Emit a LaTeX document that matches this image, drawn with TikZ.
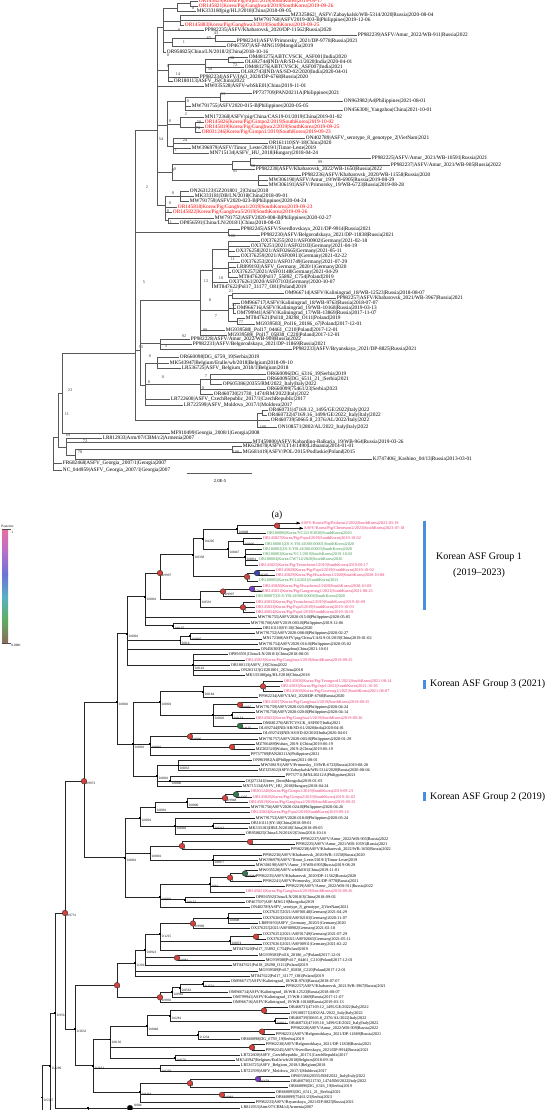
\documentclass[tikz,border=0pt]{standalone}
\usepackage{fontspec}
\setmainfont{Liberation Serif}
\definecolor{cPink}{HTML}{E8336B}
\definecolor{cGreen}{HTML}{3A9448}
\definecolor{cNRed}{HTML}{D9403C}
\definecolor{cNBlue}{HTML}{3C46B8}
\definecolor{cNPurple}{HTML}{7A3CC0}
\definecolor{cNGreen}{HTML}{2F7D4A}
\definecolor{cBar}{HTML}{4A90D9}
\definecolor{cL1}{HTML}{E86FA0}
\definecolor{cL2}{HTML}{B870C8}
\definecolor{cL3}{HTML}{6E72D6}
\definecolor{cL4}{HTML}{5AB0C4}
\definecolor{cL5}{HTML}{5FAE62}
\definecolor{cL6}{HTML}{8C6A5A}
\newcount\nn
\tikzset{
  tbr/.style={draw=black!65, line width=0.7pt},
  bbr/.style={draw=black!85, line width=0.75pt},
  tlab/.style={font=\fontsize{5.3}{5.5}\selectfont, anchor=west, inner sep=0.6pt},
  blab/.style={font=\fontsize{4.2}{4.5}\selectfont, anchor=west, inner sep=0.6pt},
  tbl/.style={font=\fontsize{4.2}{4.5}\selectfont, text=black!80, inner sep=0.3pt},
  bpl/.style={font=\fontsize{3.4}{3.6}\selectfont, anchor=west, inner sep=0.3pt},
  rdt/.style={text=red},
  pkt/.style={text=cPink},
  gnt/.style={text=cGreen},
  bkt/.style={},
  grp/.style={font=\fontsize{10}{12}\selectfont, inner sep=0pt},
  lgd/.style={font=\fontsize{3.4}{3.6}\selectfont, inner sep=0.3pt}
}
\newcommand\tnode[4]{\coordinate (#1) at (#3,#4); \draw[tbr] (#2) |- (#1);}
\newcommand\tleaf[5]{\global\advance\nn by 1 \draw[tbr] (#1) |- (#2,#3) node[tlab,#5] (n\the\nn) {#4};}
\newcommand\tboot[3]{\global\advance\nn by 1 \node[tbl] (n\the\nn) at (#1,#2) {#3};}
\newcommand\bnode[4]{\coordinate (#1) at (#3,{523+5.27*#4}); \draw[bbr] (#2) |- (#1);}
\newcommand\bleaf[5]{\global\advance\nn by 1 \draw[bbr] (#1) |- (#2,{523+5.27*#3}) node[blab,#5] (n\the\nn) {#4};}
\newcommand\bpost[2]{\global\advance\nn by 1 \node[bpl] (n\the\nn) at ([shift={(1.4,2.6)}]#1) {#2};}
\newcommand\bcirc[2]{\filldraw[draw=black!80, fill=#2, line width=0.4pt] (#1) circle (2.8);}
\newcommand\bdot[1]{\fill[black] ([shift={(-0.9,-0.9)}]#1) rectangle ([shift={(0.9,0.9)}]#1);}
\begin{document}
\begin{tikzpicture}[x=1pt,y=-1pt]
\useasboundingbox (0,0) rectangle (554,1110);
\fill[white] (0,0) rectangle (554,1110);
% ================= TOP TREE =================
\coordinate (tR) at (53,463);
\tnode{tA}{tR}{58}{437}
\tleaf{tR}{62}{463}{FR682468|ASFV\_Georgia\_2007/1|Georgia|2007}{bkt}
\tleaf{tR}{62}{470}{NC\_044959|ASFV\_Georgia\_2007/1|Georgia|2007}{bkt}
\tnode{tB}{tA}{62}{393}
\tnode{tC}{tA}{66}{447}
\tnode{tD}{tB}{135}{353}
\tleaf{tB}{170}{433}{MF910499|Georgia\_2008/1|Georgia|2008}{bkt}
\tleaf{tC}{102}{438}{LR812933|Arm/07/CBM/c2|Armenia|2007}{bkt}
\tleaf{tC}{252}{442}{MT459800|ASFV/Kabardino-Balkaria\_19/WB-964|Russia|2019-03-26}{bkt}
\tnode{tN78}{tC}{75}{455}
\tnode{tN100}{tN78}{232}{449}
\tleaf{tN100}{242}{446}{MK628478|ASFV/LT14/1490|Lithuania|2014-01-01}{bkt}
\tleaf{tN100}{242}{452}{MG681419|ASFV/POL/2015/Podlaskie|Poland|2015}{bkt}
\tleaf{tN78}{372}{459}{KJ747406|\_Kashino\_04/13|Russia|2013-03-01}{bkt}
\tboot{70}{390}{23}\tboot{67}{414}{11}\tboot{68}{435}{69}\tboot{85}{441}{72}\tboot{80}{452}{78}\tboot{236}{452}{100}
% D clade
\tnode{tE}{tD}{157}{130}
\tnode{tP100}{tD}{228}{232}
\tnode{tF}{tD}{140}{350}
\tnode{tIt}{tD}{257}{420}
\tboot{147}{187}{2}\tboot{144}{282}{5}\tboot{141}{347}{95}\tboot{161}{139}{54}
% K clade
\tnode{tK}{tE}{163}{27}
\tnode{tK1}{tK}{177}{8}
\tnode{tK2}{tK1}{190}{3.5}
\tleaf{tK2}{198}{1}{OR145829|Korea/Pig/Paju1/2019|SouthKorea|2019-09-17}{rdt}
\tleaf{tK2}{198}{6}{OR145821|Korea/Pig/Ganghwa4/2019|SouthKorea|2019-09-26}{rdt}
\tleaf{tK1}{196}{11}{MK333180|pig/HLJ/2018|China|2018-09-05}{bkt}
\tnode{tK3}{tK}{180}{21}
\tleaf{tK3}{290}{15}{MZ325862|\_ASFV/Zabaykalsk/WB-5314/2020|Russia|2020-08-04}{bkt}
\tleaf{tK3}{253}{20}{MW791760|ASFV2019-003-B|Philippines|2019-12-06}{bkt}
\tleaf{tK3}{184}{25}{OR145883|Korea/Pig/Ganghwa3/2019|SouthKorea|2019-09-25}{rdt}
\tleaf{tK}{204}{30}{PP982235|ASFV/Khabarovsk\_2020/DP-11562|Russia|2020}{bkt}
\tnode{tK4}{tK}{172}{42}
\tnode{tK5}{tK4}{215}{38.5}
\tleaf{tK5}{357}{35.5}{PP982239|ASFV/Amur\_2022/WB-911|Russia|2022}{bkt}
\tleaf{tK5}{236}{41}{PP982241|ASFV/Primorsky\_2021/DP-9778|Russia|2021}{bkt}
\tleaf{tK4}{226}{46}{OP467597|ASF-MNG19|Mongolia|2019}{bkt}
\tleaf{tK}{166}{52}{OR958825|China/LN/2018/2|China|2018-10-16}{bkt}
\tboot{193}{8}{0}\tboot{179}{30}{0}\tboot{216}{33}{43}\tboot{209}{38}{65}\tboot{184}{42}{1}\tboot{168}{55}{0}
% India clade
\tnode{tIn}{tE}{168}{70}
\tnode{tIn2}{tIn}{205}{64.5}
\tnode{tIn3}{tIn2}{228}{59.5}
\tleaf{tIn3}{248}{57}{OM481275|ABTCVSCK\_ASF001|India|2020}{bkt}
\tleaf{tIn3}{244}{62}{OL692744|IND/AR/SD-61/2020|India|2020-04-01}{bkt}
\tleaf{tIn2}{244}{67}{OM481276|ABTCVSCK\_ASF007|India|2021}{bkt}
\tleaf{tIn2}{240}{72}{OL692743|IND/AS/SD-02/2020|India|2020-04-01}{bkt}
\tleaf{tIn}{199}{77}{PP982234|ASFV/IAO\_2020/DP-6768|Russia|2020}{bkt}
\tleaf{tIn}{173}{81}{OR180113|ASFV\_JS|China|2022}{bkt}
\tleaf{tE}{204}{86}{MW035528|ASFV-wbSkE01|China|2019-11-01}{bkt}
\tboot{232}{58}{38}\tboot{235}{65}{72}\tboot{210}{69}{59}\tboot{178}{74}{14}\tboot{168}{66}{0}
% Philippines clade
\tnode{tPh}{tE}{167}{125}
\tnode{tPh1}{tPh}{185}{101}
\tnode{tPh1a}{tPh1}{220}{97}
\tleaf{tPh1a}{252}{93}{PP737709|PAN20211A|Philippines|2021}{bkt}
\tleaf{tPh1a}{343}{101}{ON963982|A4|Philippines|2021-08-01}{bkt}
\tleaf{tPh1}{191}{106}{MW791755|ASFV2020-015-B|Philippines|2020-05-05}{bkt}
\tleaf{tPh1}{343}{110}{ON456300|\_Yangzhou|China|2021-10-01}{bkt}
\tnode{tPh2}{tPh}{180}{124}
\tleaf{tPh2}{204}{117}{MN172368|ASFV/pig/China/CAS19-01/2019|China|2019-01-02}{bkt}
\tnode{tPh2a}{tPh2}{195}{127}
\tleaf{tPh2a}{204}{122}{OR145826|Korea/Pig/Gimpo2/2019|SouthKorea|2019-10-02}{rdt}
\tleaf{tPh2a}{204}{127}{OR145819|Korea/Pig/Ganghwa2/2019|SouthKorea|2019-09-25}{rdt}
\tleaf{tPh2a}{201}{132}{OR031246|Korea/Pig/Gimpo1/2019|SouthKorea|2019-09-23}{rdt}
\tnode{tPh3}{tPh}{173}{146}
\tleaf{tPh3}{305}{138}{ON402789|ASFV\_serotype\_8\_genotype\_2|VietNam|2021}{bkt}
\tleaf{tPh3}{268}{143}{OR161110|SY-18|China|2020}{bkt}
\tleaf{tPh3}{191}{148}{MW396979|ASFV/Timor\_Leste/2019/1|Timor-Leste|2019}{bkt}
\tleaf{tPh3}{209}{153}{MN715134|ASFV\_HU\_2018|Hungary|2018-04-24}{bkt}
\tboot{223}{94}{93}\tboot{188}{101}{0}\tboot{186}{114}{2}\tboot{199}{122}{50}\tboot{198}{128}{78}\tboot{185}{140}{24}\tboot{176}{150}{1}\tboot{170}{121}{0}
% Amur clade
\tnode{tAm}{tE}{172}{172}
\tnode{tAm1}{tAm}{232}{164}
\tnode{tAm1a}{tAm1}{250}{161.5}
\tleaf{tAm1a}{371}{158}{PP982225|ASFV/Amur\_2021/WB-10591|Russia|2021}{bkt}
\tleaf{tAm1a}{390}{165}{PP982237|ASFV/Amur\_2021/WB-905|Russia|2022}{bkt}
\tleaf{tAm1}{255}{169}{PP982238|ASFV/Khabarovsk\_2022/WB-1650|Russia|2022}{bkt}
\tnode{tAm2}{tAm}{258}{180}
\tleaf{tAm2}{301}{175}{PP982236|ASFV/Khabarovsk\_2020/WB-11558|Russia|2020}{bkt}
\tleaf{tAm2}{268}{180}{MW306190|ASFV/Amur\_19/WB-6905|Russia|2019-08-29}{bkt}
\tleaf{tAm2}{268}{185}{MW306191|ASFV/Primorsky\_19/WB-6723|Russia|2019-08-28}{bkt}
\tboot{235}{171}{95}\tboot{253}{166}{98}\tboot{320}{162}{99}\tboot{175}{169}{0}
% bottom of E clade
\tnode{tBt}{tE}{165}{205}
\tnode{tBt1}{tBt}{180}{196}
\tleaf{tBt1}{189}{191}{ON263123|GZ201801\_2|China|2018}{bkt}
\tleaf{tBt1}{194}{196}{MK333181|DB/LN/2018|China|2018-09-01}{bkt}
\tleaf{tBt1}{189}{201}{MW791759|ASFV2020-023-B|Philippines|2020-04-24}{bkt}
\tleaf{tBt}{177}{207}{OR145818|Korea/Pig/Ganghwa1/2019|SouthKorea|2019-09-23}{rdt}
\tleaf{tBt}{172}{212}{OR145822|Korea/Pig/Ganghwa5/2019|SouthKorea|2019-09-26}{rdt}
\tnode{tBt2}{tBt}{168}{220}
\tleaf{tBt2}{214}{218}{MW791752|ASFV2020-008-B|Philippines|2020-02-27}{bkt}
\tleaf{tBt2}{179}{223}{OP856591|China/LN/2018/1|China|2018-08-03}{bkt}
\tboot{173}{170}{0}\tboot{173}{193}{0}\tboot{170}{203}{0}\tboot{168}{211}{0}\tboot{171}{222}{1}
% pair
\tleaf{tP100}{240}{229}{PP982245|ASFV/Sverdlovskaya\_2021/DP-9914|Russia|2021}{bkt}
\tleaf{tP100}{260}{235}{PP982230|ASFV/Belgorodskaya\_2021/DP-11838|Russia|2021}{bkt}
\tboot{232}{236}{100}
% Germany / Poland
\tnode{tGP}{tF}{200}{300}
\tnode{tG1}{tGP}{212}{270}
\tnode{tG1a}{tG1}{228}{249}
\tleaf{tG1a}{260}{241}{OX376255|2021/ASF00902|Germany|2021-02-18}{bkt}
\tleaf{tG1a}{250}{246}{OX376251|2021/ASF02103|Germany|2021-04-19}{bkt}
\tleaf{tG1a}{235}{251}{OX376258|2021/ASF02665|Germany|2021-05-11}{bkt}
\tleaf{tG1a}{240}{256}{OX376259|2021/ASF00911|Germany|2021-02-22}{bkt}
\tnode{tG1b}{tG1}{228}{268}
\tleaf{tG1b}{240}{262}{OX376253|2021/ASF01749|Germany|2021-07-29}{bkt}
\tleaf{tG1b}{236}{267}{LR899193|ASFV\_Germany\_2020/1|Germany|2020}{bkt}
\tleaf{tG1b}{231}{272}{OX376257|2021/ASF01148|Germany|2021-04-29}{bkt}
\tleaf{tG1b}{238}{277}{MT847620|Pol17\_55892\_C754|Poland|2019}{bkt}
\tleaf{tG1}{228}{282}{OX376261|2020/ASF07103|Germany|2020-10-07}{bkt}
\tleaf{tG1}{213}{287}{MT847622|Pol17\_31177\_O81|Poland|2019}{bkt}
\tnode{tG2}{tGP}{228}{310}
\tnode{tG2a}{tG2}{232}{295.5}
\tleaf{tG2a}{284}{293}{OM966714|ASFV/Kaliningrad\_18/WB-12523|Russia|2018-08-07}{bkt}
\tleaf{tG2a}{336}{298}{PP982257|ASFV/Khabarovsk\_2021/WB-3967|Russia|2021}{bkt}
\tnode{tG2b}{tG2}{233}{308}
\tleaf{tG2b}{240}{303}{OM966717|ASFV/Kaliningrad\_18/WB-9763|Russia|2018-07-07}{bkt}
\tleaf{tG2b}{236}{308}{OM966716|ASFV/Kaliningrad\_19/WB-10168|Russia|2019-03-13}{bkt}
\tleaf{tG2b}{236}{313}{OM799941|ASFV/Kaliningrad\_17/WB-13869|Russia|2017-11-07}{bkt}
\tnode{tG2c}{tG2}{237}{321}
\tleaf{tG2c}{245}{318}{MT847621|Pol18\_28298\_O111|Poland|2019}{bkt}
\tleaf{tG2c}{255}{324}{MG939583|\_Pol16\_20186\_o7|Poland|2017-12-01}{bkt}
\tleaf{tGP}{225}{330}{MG939588|\_Pol17\_04461\_C210|Poland|2017-12-01}{bkt}
\tleaf{tGP}{227}{335}{MG939589|\_Pol17\_05838\_C220|Poland|2017-12-01}{bkt}
\tboot{233}{259}{11}\tboot{221}{278.5}{10}\tboot{206}{281}{12}\tboot{231}{291}{21}\tboot{234}{305}{51}\tboot{210}{300}{8}\tboot{216}{316}{7}\tboot{241}{322}{77}\tboot{205}{330}{98}
% R92
\tnode{tR92}{tF}{160}{343}
\tleaf{tR92}{190}{339}{PP982228|ASFV/Amur\_2022/WB-909|Russia|2022}{bkt}
\tleaf{tR92}{192}{344}{PP982231|ASFV/Belgorodskaya\_2021/DP-11869|Russia|2021}{bkt}
\tleaf{tR92}{292}{349}{PP982233|ASFV/Bryanskaya\_2021/DP-8825|Russia|2021}{bkt}
\tboot{184}{336}{92}\tboot{166}{346}{3}
% Serbia Belgium
\tnode{tSB}{tF}{145}{385}
\tnode{tSB1}{tSB}{157}{363}
\tleaf{tSB1}{179}{357.5}{OR660098|DG\_6759\_19|Serbia|2019}{bkt}
\tleaf{tSB1}{169}{363}{MK543947|Belgium/Etalle/wb/2018|Belgium|2018-09-10}{bkt}
\tleaf{tSB1}{181}{368}{LR536725|ASFV\_Belgium\_2018/1|Belgium|2018}{bkt}
\tnode{tSB2}{tSB}{200}{384.5}
\tnode{tSB2a}{tSB2}{210}{379}
\tleaf{tSB2a}{266}{374}{OR660096|DG\_6316\_19|Serbia|2019}{bkt}
\tleaf{tSB2a}{266}{379}{OR660095|DG\_6511\_21\_|Serbia|2021}{bkt}
\tleaf{tSB2a}{222}{384}{OP605386|20355/RM/2022\_Italy|Italy|2022}{bkt}
\tleaf{tSB2}{266}{389.5}{OR660099|75461/23|Serbia|2023}{bkt}
\tleaf{tSB2}{213}{394.5}{OR460730|21730\_1474/RM/2022|Italy|2022}{bkt}
\tleaf{tSB}{170}{399.5}{LR722600|ASFV\_CzechRepublic\_2017/1|CzechRepublic|2017}{bkt}
\tleaf{tSB}{183}{405}{LR722599|ASFV\_Moldova\_2017/1|Moldova|2017}{bkt}
\tboot{150}{356}{0}\tboot{163}{377}{0}\tboot{206}{376}{7}\tboot{203}{388}{0}\tboot{149}{382}{8}
% Italy
\tnode{tIt1}{tIt}{262}{413}
\tleaf{tIt1}{268}{410}{OR460731|47169.12\_1495/GE/2022|Italy|2022}{bkt}
\tleaf{tIt1}{267}{415}{OR460732|47169.16\_1499/GE/2022\_Italy|Italy|2022}{bkt}
\tleaf{tIt}{270}{420}{OR460739|50665.8\_2376/AL/2022/Italy|2022}{bkt}
\tleaf{tIt}{277}{427}{ON108571|2802/AL/2022\_Italy|Italy|2022}{bkt}
\tboot{263}{427}{100}
% scale bar
\draw[tbr] (187,473) -- (252,473);
\node[font=\fontsize{4.6}{5}\selectfont] (sbl) at (220,481) {2.0E-5};
\node[font=\fontsize{9.5}{11}\selectfont] (pa) at (277,515) {(a)};
% ================= LEGEND =================
\shade[top color=cL1, bottom color=cL2] (2,529) rectangle (8,551);
\shade[top color=cL2, bottom color=cL3] (2,551) rectangle (8,574);
\shade[top color=cL3, bottom color=cL4] (2,574) rectangle (8,597);
\shade[top color=cL4, bottom color=cL5] (2,597) rectangle (8,619);
\shade[top color=cL5, bottom color=cL6] (2,619) rectangle (8,643);
\draw[black!70, line width=0.3pt] (2,529) -- (11,529) (2,643) -- (11,643);
\node[lgd, anchor=south west] (lg1) at (1,528) {Posterior};
\node[lgd, anchor=west] (lg2) at (11,532) {1};
\node[lgd, anchor=west] (lg3) at (11,645.5) {0.0001};
% ================= GROUP BARS =================
\fill[cBar] (423,521) rectangle (426,610);
\node[grp] (g1a) at (479,557) {Korean ASF Group 1};
\node[grp] (g1b) at (479,573) {(2019--2023)};
\fill[cBar] (423,680) rectangle (426,689);
\node[grp, anchor=west] (g3) at (430,684.5) {Korean ASF Group 3 (2021)};
\fill[cBar] (423,792) rectangle (426,801);
\node[grp, anchor=west] (g2) at (430,797) {Korean ASF Group 2 (2019)};
% ================= BOTTOM TREE =================
\coordinate (Z0) at (42,{523+5.27*109});
\bnode{Z1}{Z0}{50}{103}
\draw[bbr] (Z0) |- (60,1135);
\bnode{Z2}{Z1}{55}{93}
\draw[bbr] (Z1) |- (70,1130);
\bnode{Zc}{Z2}{88}{111}
\draw[bbr] (Zc) |- (100,1128);
\bnode{Zb}{Zc}{130}{111}
\bleaf{Zb}{240}{111}{LR812933|Arm/07/CBM/c2|Armenia|2007}{bkt}
\bnode{Z3}{Z2}{65}{74}
\bnode{Z4}{Z3}{84}{49}
\bnode{Z5}{Z3}{75}{96}
\bnode{Z6}{Z4}{117}{34}
\bnode{Z7}{Z4}{125}{63.5}
\bnode{Z8}{Z6}{127}{21}
\bnode{Z9}{Z6}{133}{42}
% group 1
\bnode{H1}{Z8}{145}{14}
\bnode{G1}{H1}{160}{9.5}
\bnode{G1a}{G1}{193}{6}
\bnode{G1c}{G1a}{203}{3}
\bnode{G1e}{G1c}{237}{1.2}
\bnode{G1g}{G1e}{277}{0.5}
\bleaf{G1g}{300}{0}{ASFV/Korea/Pig/Pocheon2/2022|SouthKorea|2022-03-19}{pkt}
\bleaf{G1g}{303}{1}{ASFV/Korea/Pig/Cheorwon2/2023|SouthKorea|2023-07-18}{pkt}
\bleaf{G1e}{266}{2}{OR180006|Korea/YC2219/2020|SouthKorea|2020}{gnt}
\bnode{G1f}{G1c}{228}{5}
\bnode{G1h}{G1f}{243}{3.5}
\bleaf{G1h}{262}{3}{OR145827|Korea/Pig/Paju4/2019|SouthKorea|2019-10-02}{pkt}
\bleaf{G1h}{264}{4}{OR180001|ZS-S-YB-41000-00001|SouthKorea|2020}{gnt}
\bnode{G1i}{G1f}{245}{6.5}
\bleaf{G1i}{262}{5}{OR180002|ZS-S-YB-41000-00003|SouthKorea|2020}{gnt}
\bleaf{G1i}{262}{6}{OR180003|Korea/YC1/2019|SouthKorea|2019-10-02}{gnt}
\bleaf{G1i}{258}{7}{OR180004|Korea/CW714/2020|SouthKorea|2020}{gnt}
\bleaf{G1i}{258}{8}{OR145825|Korea/Pig/Yeoncheon1/2019|SouthKorea|2019-09-17}{pkt}
\bnode{G1d}{G1a}{247}{10.2}
\bnode{G1j}{G1d}{257}{9.5}
\bleaf{G1j}{275}{9}{OR145828|Korea/Pig/Paju3/2019|SouthKorea|2019-10-02}{pkt}
\bleaf{G1j}{275}{10}{OR145829|Korea/Pig/Hwacheon1/2020|SouthKorea|2020-10-08}{pkt}
\bleaf{G1d}{258}{11}{OR180005|Korea/PC14/2021|SouthKorea|2021}{gnt}
\bnode{G1b}{G1}{200}{14.5}
\bnode{G1k}{G1b}{223}{13}
\bnode{G1l}{G1k}{252}{12.5}
\bleaf{G1l}{262}{12}{OR145820|Korea/Pig/Hwacheon2/2020|SouthKorea|2020-10-09}{pkt}
\bleaf{G1l}{262}{13}{OR145831|Korea/Pig/Gangneung1/2021|SouthKorea|2021-08-23}{pkt}
\bleaf{G1k}{255}{14}{OR180007|ZS-S-YB-41000-00006|SouthKorea|2020}{gnt}
\bnode{G1m}{G1b}{243}{16}
\bleaf{G1m}{255}{15}{OR145832|Korea/Pig/Yeoncheon2/2019|SouthKorea|2019-10-09}{pkt}
\bleaf{G1m}{255}{16}{OR145833|Korea/Pig/Paju5/2019|SouthKorea|2019-10-03}{pkt}
\bleaf{G1m}{255}{17}{OR145834|Korea/Pig/Paju1/2019|SouthKorea|2019-10-01}{pkt}
\bleaf{H1}{257}{18}{MW791755|ASFV2020-015-B|Philippines|2020-05-05}{bkt}
\bnode{H1a}{H1}{173}{19.5}
\bleaf{H1a}{250}{19}{MW791760|ASFV2019-003-B|Philippines|2019-12-06}{bkt}
\bleaf{H1a}{262}{20}{OR161110|SY-18|China|2020}{bkt}
\bnode{H2a}{Z8}{180}{22.3}
\bnode{H2b}{H2a}{190}{21.5}
\bleaf{H2b}{255}{21}{MW791752|ASFV2020-008-B|Philippines|2020-02-27}{bkt}
\bleaf{H2b}{262}{22}{MN172368|ASFV/pig/China/CAS19-01/2019|China|2019-01-02}{bkt}
\bleaf{H2a}{258}{23}{MW791754|ASFV2020-016-B|Philippines|2020-05-02}{bkt}
\bleaf{Z8}{260}{24}{ON456300|Yangzhou|China|2021-10-01}{bkt}
\bnode{Z8b}{Z8}{193}{27}
\bleaf{Z8b}{228}{25}{OP856591|China/LN/2018/1|China|2018-08-03}{bkt}
\bleaf{Z8b}{245}{26}{OR145823|Korea/Pig/Ganghwa3/2019|SouthKorea|2019-09-25}{pkt}
\bleaf{Z8b}{230}{27}{OR180113|ASFV\_JS|China|2022}{bkt}
\bleaf{Z8b}{240}{28}{ON263123|GZ201801\_2|China|2018}{bkt}
\bleaf{Z8b}{245}{29}{MK333180|pig/HLJ/2018|China|2018}{bkt}
% Z9
\bnode{Z10}{Z9}{160}{34}
\bnode{Z10a}{Z10}{203}{32}
\bnode{Z10c}{Z10a}{263}{31}
\bleaf{Z10c}{283}{30}{OR145830|Korea/Pig/Yeongwol1/2021|SouthKorea|2021-08-14}{pkt}
\bleaf{Z10c}{280}{31}{OR145835|Korea/Pig/Inje1/2021|SouthKorea|2021-10-05}{pkt}
\bleaf{Z10c}{283}{32}{OR145836|Korea/Pig/Goseong1/2021|SouthKorea|2021-08-07}{pkt}
\bleaf{Z10a}{258}{33}{PP982234|ASFV/IAO\_2020/DP-6768|Russia|2020}{bkt}
\bnode{Z10b}{Z10}{213}{36.5}
\bnode{Z10d}{Z10b}{240}{34.5}
\bleaf{Z10d}{262}{34}{OR145837|Korea/Pig/Ganghwa3/2019|SouthKorea|2019-09-25}{pkt}
\bleaf{Z10d}{255}{35}{MW791759|ASFV2020-023-B|Philippines|2020-04-24}{bkt}
\bnode{Z10e}{Z10b}{232}{36.5}
\bleaf{Z10e}{255}{36}{MW791758|ASFV2020-020-B|Philippines|2020-04-14}{bkt}
\bleaf{Z10e}{255}{37}{OR145822|Korea/Pig/Ganghwa5/2019|SouthKorea|2019-09-26}{pkt}
\bnode{Z10f}{Z10b}{240}{38.5}
\bleaf{Z10f}{262}{38}{OM481276|ABTCVSCK\_ASF007|India|2021}{bkt}
\bleaf{Z10f}{258}{39}{OL692744|IND/AR/SD-61/2020|India|2020-04-01}{bkt}
\bnode{Z11}{Z9}{150}{42}
\bnode{Z11a}{Z11}{190}{40.5}
\bleaf{Z11a}{262}{40}{OL692743|IND/AS/SD-02/2020|India|2020-04-01}{bkt}
\bleaf{Z11a}{258}{41}{MW791757|ASFV2020-003-B|Philippines|2020-01-29}{bkt}
\bnode{Z11b}{Z11}{232}{42.5}
\bleaf{Z11b}{255}{42}{MZ766489|Wuhan\_2019-1|China|2019-06-19}{bkt}
\bleaf{Z11b}{255}{43}{MZ202520|Wuhan\_2019-2|China|2019-06-19}{bkt}
\bleaf{Z11}{250}{44}{PP737709|PAN20211A|Philippines|2021}{bkt}
\bnode{Z12}{Z9}{157}{48}
\bnode{Z12a}{Z12}{178}{46}
\bleaf{Z12a}{252}{45}{ON963982|A4|Philippines|2021-08-01}{bkt}
\bleaf{Z12a}{260}{46}{MW306191|ASFV/Primorsky\_19/WB-6723|Russia|2019-08-28}{bkt}
\bleaf{Z12a}{258}{47}{MZ325862|ASFV/Zabaykalsk/WB-5314/2020|Russia|2020-08-04}{bkt}
\bnode{Z12b}{Z12}{170}{49}
\bleaf{Z12b}{285}{48}{PP737711|MNL20212A|Philippines|2021}{bkt}
\bleaf{Z12b}{245}{49}{OQ271341|Inner\_Dom|Mongolia|2019-01-03}{bkt}
\bleaf{Z12}{242}{50}{MN715134|ASFV\_HU\_2018|Hungary|2018-04-24}{bkt}
% Z7 (group 2)
\bnode{Z17}{Z7}{140}{56}
\bnode{Z17a}{Z17}{155}{54}
\bnode{Z17c}{Z17a}{187}{53}
\bnode{Z17d}{Z17c}{225}{52.2}
\bnode{Z17e}{Z17d}{236}{51.5}
\bleaf{Z17e}{250}{51}{OR031246|Korea/Pig/Gimpo1/2019|SouthKorea|2019-09-23}{pkt}
\bleaf{Z17e}{252}{52}{OR145826|Korea/Pig/Gimpo2/2019|SouthKorea|2019-10-02}{pkt}
\bleaf{Z17d}{248}{53}{OR145819|Korea/Pig/Ganghwa2/2019|SouthKorea|2019-09-25}{pkt}
\bleaf{Z17c}{250}{54}{MW791756|ASFV2020-024-B|Philippines|2020-04-26}{bkt}
\bleaf{Z17a}{250}{55}{OR145824|Korea/Pig/Paju2/2019|SouthKorea|2019-09-16}{pkt}
\bnode{Z17b}{Z17}{175}{57.5}
\bleaf{Z17b}{255}{56}{MW791753|ASFV2020-018-B|Philippines|2020-03-24}{bkt}
\bnode{Z17f}{Z17b}{213}{57.5}
\bleaf{Z17f}{250}{57}{OR161111|SY-18|China|2018-09-01}{bkt}
\bleaf{Z17f}{248}{58}{MK333181|DB/LN/2018|China|2018-09-05}{bkt}
\bleaf{Z17b}{245}{59}{OR958825|China/LN/2018/2|China|2018-10-16}{bkt}
\bnode{Z18}{Z7}{150}{62.7}
\bnode{Z18a}{Z18}{182}{61.3}
\bnode{Z18b}{Z18a}{250}{60.5}
\bleaf{Z18b}{300}{60}{PP982237|ASFV/Amur\_2022/WB-905|Russia|2022}{bkt}
\bleaf{Z18b}{295}{61}{PP982225|ASFV/Amur\_2021/WB-10591|Russia|2021}{bkt}
\bleaf{Z18a}{290}{62}{PP982238|ASFV/Khabarovsk\_2022/WB-1650|Russia|2022}{bkt}
\bnode{Z18c}{Z18}{213}{64}
\bleaf{Z18c}{262}{63}{PP982236|ASFV/Khabarovsk\_2020/WB-11558|Russia|2020}{bkt}
\bleaf{Z18c}{258}{64}{MW396979|ASFV/Timor\_Leste/2019/1|Timor-Leste|2019}{bkt}
\bleaf{Z18c}{255}{65}{MW306190|ASFV/Amur\_19/WB-6905|Russia|2019-08-29}{bkt}
\bnode{Z19}{Z7}{160}{71}
\bnode{Z19a}{Z19}{210}{68.5}
\bnode{Z19b}{Z19a}{230}{67.3}
\bnode{Z19c}{Z19b}{245}{66.5}
\bleaf{Z19c}{258}{66}{MW035528|ASFV-wbSkE01|China|2019-11-01}{bkt}
\bleaf{Z19c}{255}{67}{PP982235|ASFV/Khabarovsk\_2020/DP-11562|Russia|2020}{bkt}
\bleaf{Z19b}{262}{68}{PP982241|ASFV/Primorsky\_2021/DP-9778|Russia|2021}{bkt}
\bleaf{Z19a}{285}{69}{PP982239|ASFV/Amur\_2022/WB-911|Russia|2022}{bkt}
\bleaf{Z19a}{245}{70}{OR145821|Korea/Pig/Ganghwa4/2019|SouthKorea|2019-09-26}{pkt}
\bnode{Z19d}{Z19}{185}{71.5}
\bleaf{Z19d}{255}{71}{OP856592|China/LN/2018/3|China|2018-09-02}{bkt}
\bleaf{Z19d}{245}{72}{OP467597|ASF-MNG19|Mongolia|2019}{bkt}
\bleaf{Z19}{250}{73}{ON402789|ASFV\_serotype\_8\_genotype\_2|VietNam|2021}{bkt}
% Z5: Europe
\bnode{Z3b}{Z5}{117}{87.7}
\bnode{Z15}{Z3b}{135}{83.5}
\bnode{Z15a}{Z15}{145}{81}
\bnode{Z15b}{Z15a}{160}{78}
\bnode{Z15c}{Z15b}{193}{76}
\bnode{Z15d}{Z15c}{228}{75}
\bleaf{Z15d}{262}{74}{OX376257|2021/ASF00148|Germany|2021-04-29}{bkt}
\bleaf{Z15d}{262}{75}{OX376260|2020/ASF02103|Germany|2020-11-07}{bkt}
\bleaf{Z15d}{258}{76}{LR899193|ASFV\_Germany\_2020/1|Germany|2020}{bkt}
\bleaf{Z15c}{250}{77}{OX376255|2021/ASF00902|Germany|2021-02-18}{bkt}
\bnode{Z15e}{Z15b}{230}{79.3}
\bnode{Z15f}{Z15e}{256}{78.5}
\bleaf{Z15f}{262}{78}{OX376251|2021/ASF01749|Germany|2021-07-29}{bkt}
\bleaf{Z15f}{266}{79}{OX376259|2021/ASF02665|Germany|2021-05-11}{bkt}
\bleaf{Z15e}{262}{80}{OX376261|2021/ASF00911|Germany|2021-02-22}{bkt}
\bleaf{Z15b}{232}{81}{MT847620|Pol17\_55892\_C754|Poland|2019}{bkt}
\bnode{Z15g}{Z15a}{177}{82.5}
\bleaf{Z15g}{258}{82}{MG939583|Pol16\_20186\_o7|Poland|2017-12-01}{bkt}
\bleaf{Z15g}{265}{83}{MG939588|Pol17\_04461\_C210|Poland|2017-12-01}{bkt}
\bleaf{Z15a}{232}{84}{MT847621|Pol18\_28298\_O111|Poland|2019}{bkt}
\bleaf{Z15}{258}{85}{MG939589|Pol17\_05838\_C220|Poland|2017-12-01}{bkt}
\bleaf{Z15}{250}{86}{MT847622|Pol17\_31177\_O81|Poland|2019}{bkt}
\bnode{Z16}{Z3b}{160}{90}
\bnode{Z16a}{Z16}{172}{89}
\bnode{Z16b}{Z16a}{180}{88.2}
\bnode{Z16c}{Z16b}{203}{87.5}
\bleaf{Z16c}{230}{87}{OM966717|ASFV/Kaliningrad\_18/WB-9763|Russia|2018-07-07}{bkt}
\bleaf{Z16c}{285}{88}{PP982257|ASFV/Khabarovsk\_2021/WB-3967|Russia|2021}{bkt}
\bleaf{Z16b}{228}{89}{OM966714|ASFV/Kaliningrad\_18/WB-12523|Russia|2018-08-07}{bkt}
\bleaf{Z16a}{232}{90}{OM799941|ASFV/Kaliningrad\_17/WB-13869|Russia|2017-11-07}{bkt}
\bleaf{Z16}{232}{91}{OM966716|ASFV/Kaliningrad\_19/WB-10168|Russia|2019-03-13}{bkt}
\bnode{Z5b}{Z5}{93}{103}
\bnode{Z20}{Z5b}{110}{98}
\bnode{Z20a}{Z20}{147}{95.5}
\bnode{Z20c}{Z20a}{170}{93.5}
\bnode{Z20d}{Z20c}{264}{92.5}
\bleaf{Z20d}{288}{92}{OR460731|47169.12\_1495/GE/2022|Italy|2022}{bkt}
\bleaf{Z20d}{290}{93}{ON108571|2802/AL/2022\_Italy|Italy|2022}{bkt}
\bnode{Z20h}{Z20c}{275}{94.5}
\bleaf{Z20h}{288}{94}{OR460739|50665.8\_2376/AL/2022|Italy|2022}{bkt}
\bleaf{Z20h}{288}{95}{OR460732|47169.16\_1499/GE/2022\_Italy|Italy|2022}{bkt}
\bnode{Z20e}{Z20a}{198}{97.2}
\bnode{Z20f}{Z20e}{262}{96.5}
\bleaf{Z20f}{290}{96}{PP982228|ASFV/Amur\_2022/WB-909|Russia|2022}{bkt}
\bleaf{Z20f}{275}{97}{PP982231|ASFV/Belgorodskaya\_2021/DP-11869|Russia|2021}{bkt}
\bleaf{Z20e}{240}{98}{OR660098|DG\_6759\_19|Serbia|2019}{bkt}
\bnode{Z20g}{Z20}{252}{99.5}
\bleaf{Z20g}{265}{99}{PP982230|ASFV/Belgorodskaya\_2021/DP-11838|Russia|2021}{bkt}
\bleaf{Z20g}{265}{100}{PP982245|ASFV/Sverdlovskaya\_2021/DP-9914|Russia|2021}{bkt}
\bnode{Z20i}{Z20}{175}{101.5}
\bleaf{Z20i}{240}{101}{LR722600|ASFV\_CzechRepublic\_2017/1|CzechRepublic|2017}{bkt}
\bleaf{Z20i}{235}{102}{MK543947|Belgium/Etalle/wb/2018|Belgium|2018-09-10}{bkt}
\bnode{Z20b}{Z5b}{160}{103.5}
\bleaf{Z20b}{240}{103}{LR536725|ASFV\_Belgium\_2018/1|Belgium|2018}{bkt}
\bleaf{Z20b}{240}{104}{LR722599|ASFV\_Moldova\_2017/1|Moldova|2017}{bkt}
\bnode{Z21}{Z5b}{140}{108}
\bnode{Z21a}{Z21}{190}{106.3}
\bnode{Z21b}{Z21a}{258}{105.5}
\bleaf{Z21b}{290}{105}{OP605386|20355/RM/2022\_Italy|Italy|2022}{bkt}
\bleaf{Z21b}{290}{106}{OR460730|21730\_1474/RM/2022|Italy|2022}{bkt}
\bleaf{Z21a}{288}{107}{OR660096|DG\_6316\_19|Serbia|2019}{bkt}
\bnode{Z21c}{Z21}{222}{108.5}
\bleaf{Z21c}{275}{108}{OR660095|DG\_6511\_21\_|Serbia|2021}{bkt}
\bleaf{Z21c}{275}{109}{OR660099|75461/23|Serbia|2023}{bkt}
\bleaf{Z21}{255}{110}{PP982233|ASFV/Bryanskaya\_2021/DP-8825|Russia|2021}{bkt}
% tip arrows on first two leaves
\fill[black] (300,523) -- (296.5,521.5) -- (296.5,524.5) -- cycle;
\fill[black] (303,528.27) -- (299.5,526.77) -- (299.5,529.77) -- cycle;
% node markers
\foreach \a in {Z0,Z1,Z2,Zc,Z5,Z6,Z7,Z8,Z9,H1,G1a,G1c,G1e,G1f,G1h,G1i,G1b,H1a,H2a,H2b,Z8b,Z10,Z10a,Z10b,Z10e,Z11,Z12,Z12a,Z12b,Z17,Z17a,Z17c,Z17b,Z17f,Z18,Z18c,Z19,Z19a,Z19d,Z15,Z15a,Z15b,Z15d,Z15e,Z16a,Z16b,Z16c,Z5b,Z20,Z20a,Z20c,Z20h,Z20e,Z20i,Z20b,Z21}{\bdot{\a}}
\foreach \a in {G1,G1g,G1d,G1k,G1m,Z10c,Z10d,Z11a,Z11b,Z4,Z3,Z17d,Z18a,Z18b,Z19b,Z15c,Z15f,Z15g,Z3b,Z16,Z20d,Z20f,Z20g,Z21a,Z21c}{\bcirc{\a}{cNRed}}
\bcirc{G1j}{cNBlue}
\bcirc{G1l}{cNPurple}
\bcirc{Z21b}{cNPurple}
\foreach \a in {Z10f,Z17e,Z19c}{\bcirc{\a}{cNGreen}}
\bcirc{Zb}{black}
% posterior labels
\foreach \a/\b in {G1/0.9997,G1a/0.0358,G1c/0.0205,G1e/0.0008,G1g/1,G1f/0.0047,G1h/0.0006,G1i/0.0031,G1d/1,G1j/0.0207,G1b/0.0591,G1k/0.9997,G1l/0.7943,G1m/1,H1/0.0001,H1a/0.0135,H2a/0.014,H2b/0.0007,Z8/0.0001,Z8b/0.0142,Z6/0.0001,Z9/0.0001,Z10/0.0001,Z10a/0.0184,Z10c/1,Z10b/0.0026,Z10d/0.9997,Z10e/0.0154,Z10f/0.4135,Z11/0.0001,Z11a/0.0006,Z11b/1,Z12/0.0001,Z12a/0.0033,Z12b/0.0006,Z4/0.9972,Z7/0.0001,Z17/0.0001,Z17a/0.0001,Z17c/0.0000,Z17d/0.9948,Z17e/0.4307,Z17b/0.0002,Z17f/0.0213,Z18/0.0001,Z18a/1,Z18b/1,Z18c/0.0077,Z19/0.0001,Z19a/0.84,Z19b/1,Z19c/0.0084,Z19d/0.0152,Z3/0.9731,Z5/0.3632,Z3b/1,Z15/0.2812,Z15a/0.0923,Z15b/0.1215,Z15c/0.9990,Z15d/0.0008,Z15e/0.0074,Z15f/1,Z15g/0.9981,Z16/0.9992,Z16a/0.0982,Z16b/0.0563,Z16c/0.1531,Z5b/0.2651,Z20/0.0136,Z20a/0.0040,Z20c/0.6281,Z20d/1,Z20h/0.0012,Z20e/0.1234,Z20f/1,Z20g/1,Z20i/0.0576,Z20b/0.0250,Z21/0.0464,Z21a/1,Z21b/0.6658,Z21c/0.9983,Z2/0.956,Z1/0.2290,Z0/0.5347}{\bpost{\a}{\b}}
\node[bpl] (pzb) at ([shift={(3.5,-2.8)}]Zb) {0.004};
\end{tikzpicture}
\end{document}
